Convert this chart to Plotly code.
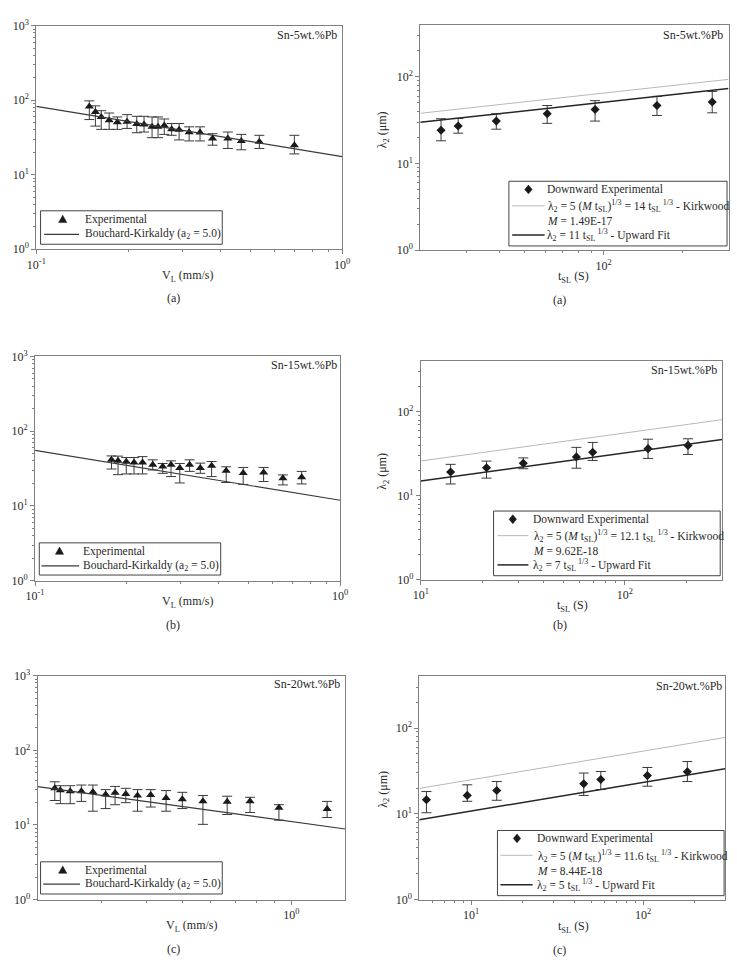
import numpy as np
import plotly.graph_objects as go

# ---------------- data ----------------
# Left column: lambda2 vs V_L  (Sn-5, Sn-15, Sn-20 wt.%Pb)
vl_a = [0.149, 0.156, 0.163, 0.173, 0.184, 0.198, 0.213, 0.225, 0.239, 0.250,
        0.262, 0.277, 0.293, 0.316, 0.343, 0.377, 0.423, 0.468, 0.536, 0.698]
lam_vl_a = [82.5, 69.3, 59.6, 53.9, 50.7, 51.4, 48.0, 47.2, 43.9, 43.9,
            45.8, 40.6, 40.1, 37.2, 36.8, 30.5, 30.5, 28.4, 27.7, 24.9]
hi_vl_a = [98.0, 84.0, 72.3, 67.3, 59.6, 64.0, 60.8, 60.8, 59.6, 59.6,
           56.0, 48.7, 48.7, 43.9, 43.9, 35.5, 37.4, 34.8, 33.8, 33.8]
lo_vl_a = [55.0, 44.9, 40.6, 40.6, 40.6, 41.8, 36.6, 37.4, 31.4, 31.4,
           34.8, 33.8, 29.3, 28.4, 28.4, 24.9, 22.5, 21.6, 22.5, 19.0]
bk_x_a = [0.1, 1.0]
bk_y_a = [82.5, 17.5]

vl_b = [0.178, 0.187, 0.199, 0.211, 0.225, 0.243, 0.262, 0.279, 0.298,
        0.321, 0.348, 0.379, 0.423, 0.481, 0.561, 0.649, 0.748]
lam_vl_b = [41.4, 40.1, 38.9, 38.1, 38.1, 35.5, 33.8, 35.5, 32.1,
            35.5, 32.1, 34.5, 29.6, 27.6, 28.1, 23.4, 24.2]
hi_vl_b = [46.7, 46.4, 44.4, 44.4, 45.7, 41.4, 37.0, 40.1, 37.0,
           41.4, 37.4, 39.3, 33.4, 32.7, 32.7, 26.0, 29.0]
lo_vl_b = [31.2, 26.2, 26.8, 26.8, 26.8, 30.3, 27.3, 24.7, 20.3,
           29.0, 27.3, 24.7, 20.6, 19.4, 21.2, 19.1, 19.7]
bk_x_b = [0.1, 1.0]
bk_y_b = [55.5, 11.9]

vl_c = [0.223, 0.231, 0.246, 0.264, 0.284, 0.308, 0.327, 0.350, 0.377,
        0.410, 0.452, 0.501, 0.571, 0.666, 0.770, 0.925, 1.256]
lam_vl_c = [31.0, 29.3, 28.4, 28.4, 27.7, 25.7, 27.0, 26.1, 24.8,
            25.3, 23.0, 22.2, 20.8, 20.5, 20.8, 17.0, 16.4]
hi_vl_c = [37.9, 33.6, 33.6, 34.3, 34.3, 29.8, 32.9, 31.0, 29.8,
           29.8, 28.9, 27.4, 24.8, 24.3, 23.5, 18.7, 20.7]
lo_vl_c = [21.3, 19.3, 19.3, 20.7, 15.3, 16.6, 18.7, 19.9, 15.3,
           17.4, 15.3, 16.6, 10.2, 13.8, 14.7, 11.6, 12.6]
bk_x_c = [0.2, 1.41]
bk_y_c = [32.6, 8.83]

# Right column: lambda2 vs t_SL
t_a = [24.0, 27.9, 39.0, 61.0, 92.9, 160.0, 260.0]
lam_t_a = [24.2, 27.1, 30.9, 37.5, 42.0, 46.7, 51.3]
hi_t_a = [32.9, 33.2, 37.5, 46.7, 53.2, 59.6, 68.0]
lo_t_a = [18.3, 22.4, 24.9, 29.1, 30.9, 35.9, 38.5]
line_x_a = [20, 300]
kirk_y_a = [38.0, 93.7]
fit_y_a = [29.9, 73.6]

t_b = [14.0, 21.0, 31.8, 57.9, 69.6, 130.0, 204.0]
lam_t_b = [19.3, 21.7, 24.5, 29.2, 33.1, 36.6, 40.0]
hi_t_b = [23.8, 26.0, 28.4, 37.9, 43.4, 47.4, 48.0]
lo_t_b = [13.9, 16.3, 21.1, 21.4, 26.5, 28.0, 31.2]
line_x_b = [10, 300]
kirk_y_b = [26.1, 81.0]
fit_y_b = [15.1, 46.9]

t_c = [5.5, 9.5, 14.1, 45.2, 56.8, 106.0, 181.0]
lam_t_c = [14.6, 16.4, 18.7, 22.4, 25.1, 27.9, 31.0]
hi_t_c = [18.2, 21.8, 23.8, 29.9, 31.2, 34.7, 40.7]
lo_t_c = [10.3, 14.0, 14.4, 16.4, 19.2, 21.0, 23.8]
line_x_c = [5, 300]
kirk_y_c = [19.8, 77.7]
fit_y_c = [8.55, 33.5]

alloys = ["Sn-5wt.%Pb", "Sn-15wt.%Pb", "Sn-20wt.%Pb"]
sublabels = ["(a)", "(b)", "(c)"]
exp_name = "Experimental"
bk_name = "Bouchard-Kirkaldy (a<sub>2</sub> = 5.0)"
down_name = "Downward Experimental"
kirk_names = [
    "λ<sub>2</sub> = 5 (<i>M</i> t<sub>SL</sub>)<sup>1/3</sup> = 14 t<sub>SL</sub><sup> 1/3</sup> - Kirkwood",
    "λ<sub>2</sub> = 5 (<i>M</i> t<sub>SL</sub>)<sup>1/3</sup> = 12.1 t<sub>SL</sub><sup> 1/3</sup> - Kirkwood",
    "λ<sub>2</sub> = 5 (<i>M</i> t<sub>SL</sub>)<sup>1/3</sup> = 11.6 t<sub>SL</sub><sup> 1/3</sup> - Kirkwood",
]
m_values = ["<i>M</i> = 1.49E-17", "<i>M</i> = 9.62E-18", "<i>M</i> = 8.44E-18"]
fit_names = [
    "λ<sub>2</sub> = 11 t<sub>SL</sub><sup> 1/3</sup> - Upward Fit",
    "λ<sub>2</sub> = 7 t<sub>SL</sub><sup> 1/3</sup> - Upward Fit",
    "λ<sub>2</sub> = 5 t<sub>SL</sub><sup> 1/3</sup> - Upward Fit",
]

# ---------------- styling ----------------
W, H = 737, 964
FONT = "Liberation Serif, Times New Roman, serif"
TXT = "#2a2a2a"
AX = "#808080"
MK = "#1a1a1a"
BK_COL = "#3a3a3a"
KIRK_COL = "#b8b8b8"
FIT_COL = "#262626"
LEG_SIZE = 11.5


def px(x):
    return x / W


def py(y):
    return 1 - y / H


def sup(n):
    return "10<sup>%d</sup>" % n


def minor_vals(lo, hi):
    vals = []
    for d in range(int(np.floor(lo)) - 1, int(np.ceil(hi)) + 1):
        for k in range(2, 10):
            v = k * 10.0 ** d
            if 10 ** lo * 1.0001 < v < 10 ** hi * 0.9999:
                vals.append(v)
    return vals


def axis(domain, rng, majors, anchor):
    return dict(
        type="log", domain=domain, range=rng, anchor=anchor,
        tickmode="array", tickvals=[10.0 ** m for m in majors],
        ticktext=[sup(m) for m in majors],
        ticks="outside", ticklen=4, tickcolor=AX, tickwidth=1,
        minor=dict(tickmode="array", tickvals=minor_vals(*rng), ticks="outside",
                   ticklen=2, tickcolor=AX, tickwidth=1, showgrid=False),
        showline=True, linecolor=AX, linewidth=1, mirror=True,
        showgrid=False, zeroline=False,
        tickfont=dict(family=FONT, size=12, color=TXT),
    )


# panel geometry in pixels: (x0, x1, ytop, ybot)
geo = [
    (28, 341, 18, 245), (421, 736.5, 17, 246),
    (26.7, 339, 354, 581.7), (421.5, 730, 359, 581),
    (29.3, 344.3, 678.3, 905.7), (420, 733, 679, 905.7),
]
xranges = [[-1, 0], [np.log10(20), np.log10(300)],
           [-1, 0], [1, np.log10(300)],
           [np.log10(0.2), np.log10(1.41)], [np.log10(5), np.log10(300)]]
xmajors = [[-1, 0], [2], [-1, 0], [1, 2], [0], [1, 2]]
yranges = [[0, 3], [0, np.log10(400)]] * 3
ymajors = [[0, 1, 2, 3], [0, 1, 2]] * 3

fig = go.Figure()
layout = {}
for i, (x0, x1, yt, yb) in enumerate(geo):
    n = "" if i == 0 else str(i + 1)
    layout["xaxis" + n] = axis([px(x0), px(x1)], xranges[i], xmajors[i], "y" + n)
    layout["yaxis" + n] = axis([py(yb), py(yt)], yranges[i], ymajors[i], "x" + n)

left_sets = [(vl_a, lam_vl_a, hi_vl_a, lo_vl_a, bk_x_a, bk_y_a),
             (vl_b, lam_vl_b, hi_vl_b, lo_vl_b, bk_x_b, bk_y_b),
             (vl_c, lam_vl_c, hi_vl_c, lo_vl_c, bk_x_c, bk_y_c)]
right_sets = [(t_a, lam_t_a, hi_t_a, lo_t_a, line_x_a, kirk_y_a, fit_y_a),
              (t_b, lam_t_b, hi_t_b, lo_t_b, line_x_b, kirk_y_b, fit_y_b),
              (t_c, lam_t_c, hi_t_c, lo_t_c, line_x_c, kirk_y_c, fit_y_c)]

for r in range(3):
    li = 2 * r
    n = "" if li == 0 else str(li + 1)
    xs, ys, hi, lo, bx, by = left_sets[r]
    fig.add_trace(go.Scatter(
        x=xs, y=ys, mode="markers", name=exp_name, showlegend=False,
        xaxis="x" + n, yaxis="y" + n,
        marker=dict(symbol="triangle-up", size=8, color=MK),
        error_y=dict(type="data", symmetric=False,
                     array=[h - v for h, v in zip(hi, ys)],
                     arrayminus=[v - l for v, l in zip(ys, lo)],
                     color=BK_COL, thickness=1, width=5)))
    fig.add_trace(go.Scatter(
        x=bx, y=by, mode="lines", name=bk_name, showlegend=False,
        xaxis="x" + n, yaxis="y" + n,
        line=dict(color=BK_COL, width=1.2)))

    ri = 2 * r + 1
    n = str(ri + 1)
    xs, ys, hi, lo, lxs, ky, fy = right_sets[r]
    fig.add_trace(go.Scatter(
        x=xs, y=ys, mode="markers", name=down_name, showlegend=False,
        xaxis="x" + n, yaxis="y" + n,
        marker=dict(symbol="diamond", size=7, color=MK),
        error_y=dict(type="data", symmetric=False,
                     array=[h - v for h, v in zip(hi, ys)],
                     arrayminus=[v - l for v, l in zip(ys, lo)],
                     color=BK_COL, thickness=1, width=5)))
    fig.add_trace(go.Scatter(
        x=lxs, y=ky, mode="lines", name=kirk_names[r], showlegend=False,
        xaxis="x" + n, yaxis="y" + n,
        line=dict(color=KIRK_COL, width=1)))
    fig.add_trace(go.Scatter(
        x=lxs, y=fy, mode="lines", name=fit_names[r], showlegend=False,
        xaxis="x" + n, yaxis="y" + n,
        line=dict(color=FIT_COL, width=1.5)))

# ---------------- annotations & legend boxes ----------------
ann = []
shapes = []


def text(x, y, s, size=12, xanchor="center", yanchor="middle", angle=0):
    ann.append(dict(x=px(x), y=py(y), xref="paper", yref="paper", text=s,
                    showarrow=False, xanchor=xanchor, yanchor=yanchor,
                    textangle=angle, borderpad=0, align="left",
                    font=dict(family=FONT, size=size, color=TXT)))


def box(x0, y0, x1, y1):
    shapes.append(dict(type="rect", xref="paper", yref="paper",
                       x0=px(x0), x1=px(x1), y0=py(y1), y1=py(y0),
                       line=dict(color="#444", width=1), fillcolor="white",
                       layer="above"))


def hline(x0, x1, y, color, width):
    shapes.append(dict(type="line", xref="paper", yref="paper",
                       x0=px(x0), x1=px(x1), y0=py(y), y1=py(y),
                       line=dict(color=color, width=width), layer="above"))


def glyph(cx, cy, kind):
    if kind == "tri":
        pts = [(cx, cy - 4.5), (cx + 4.2, cy + 3), (cx - 4.2, cy + 3)]
    else:
        pts = [(cx, cy - 4.5), (cx + 3.8, cy), (cx, cy + 4.5), (cx - 3.8, cy)]
    path = "M " + " L ".join("%.5f,%.5f" % (px(a), py(b)) for a, b in pts) + " Z"
    shapes.append(dict(type="path", xref="paper", yref="paper", path=path,
                       fillcolor=MK, line=dict(color=MK, width=0.5), layer="above"))


# left legends: box, marker row, line row
left_leg = [
    dict(box=(32.3, 206, 218.3, 240), mk=(55, 215), tx=76.7, r1=215, r2=230, ln=(36, 71.7)),
    dict(box=(31, 543.3, 216.7, 576), mk=(51.7, 552), tx=74.5, r1=552, r2=566.7, ln=(33.3, 71.7)),
    dict(box=(32.3, 867.3, 218.3, 900), mk=(55, 876), tx=76.7, r1=876, r2=890, ln=(35, 72.7)),
]
for L in left_leg:
    box(*L["box"])
    glyph(*L["mk"], "tri")
    text(L["tx"], L["r1"], exp_name, size=LEG_SIZE, xanchor="left")
    hline(L["ln"][0], L["ln"][1], L["r2"], BK_COL, 1.2)
    text(L["tx"], L["r2"], bk_name, size=LEG_SIZE, xanchor="left")

# right legends
right_leg = [
    dict(box=(511.7, 176, 735, 241.7), mk=(531.7, 184.3), tx=550,
         rows=(184.3, 201, 215, 230.7), ln=(515, 548.3)),
    dict(box=(496, 511, 728, 576.7), mk=(515.7, 519.3), tx=535,
         rows=(519.3, 536, 549.8, 565.7), ln=(500, 531.7)),
    dict(box=(500, 835.5, 732, 901.7), mk=(520, 843.5), tx=539.3,
         rows=(843.5, 860.7, 875, 890.5), ln=(503, 536)),
]
for r, L in enumerate(right_leg):
    box(*L["box"])
    glyph(*L["mk"], "dia")
    ra, rb, rc, rd = L["rows"]
    text(L["tx"], ra, down_name, size=LEG_SIZE, xanchor="left")
    hline(L["ln"][0], L["ln"][1], rb, KIRK_COL, 1)
    text(L["tx"], (rb + rc) / 2, kirk_names[r] + "<br>" + m_values[r],
         size=LEG_SIZE, xanchor="left")
    hline(L["ln"][0], L["ln"][1], rd, FIT_COL, 1.5)
    text(L["tx"], rd, fit_names[r], size=LEG_SIZE, xanchor="left")

# alloy labels (top right inside each panel)
alloy_pos = [(337, 27), (732, 27), (337, 363), (726, 368), (340, 687), (731, 689)]
for i, (x, y) in enumerate(alloy_pos):
    text(x, y, alloys[i // 2], xanchor="right")

# x axis titles
xt_left = [(183, 272), (183, 603), (187, 933)]
xt_right = [(578, 273), (577, 607), (578, 934)]
for r in range(3):
    text(*xt_left[r], "V<sub>L</sub> (mm/s)")
    text(*xt_right[r], "t<sub>SL</sub> (S)")

# sub labels
sl_left = [(168, 295), (168, 627), (168, 956)]
sl_right = [(564, 297), (564, 627), (564, 957)]
for r in range(3):
    text(*sl_left[r], sublabels[r])
    text(*sl_right[r], sublabels[r])

# y axis titles (right column)
for y in [124, 471, 794]:
    text(383, y, "λ<sub>2</sub> (μm)", angle=-90)

layout["annotations"] = ann
layout["shapes"] = shapes
fig.update_layout(
    width=W, height=H, margin=dict(l=0, r=0, t=0, b=0),
    paper_bgcolor="white", plot_bgcolor="white", showlegend=False,
    font=dict(family=FONT, size=12, color=TXT),
    **layout)

fig.write_html("out.html")
